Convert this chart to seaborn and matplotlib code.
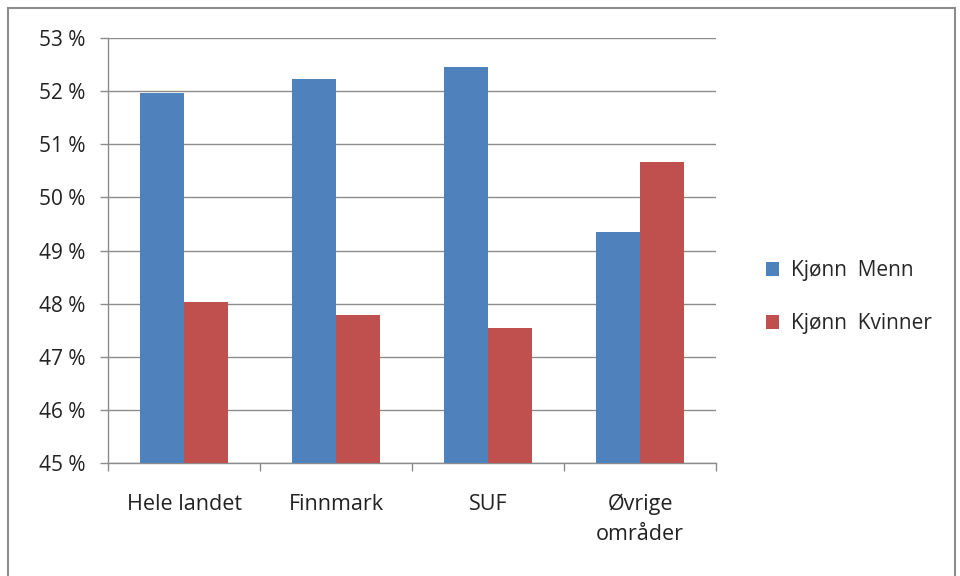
import pandas as pd
import numpy as np
import matplotlib.pyplot as plt
import matplotlib.ticker as mticker
from matplotlib.patches import Rectangle, Patch
import seaborn as sns

# data
categories = ["Hele landet", "Finnmark", "SUF", "Øvrige\nområder"]
menn = [51.97, 52.22, 52.45, 49.34]
kvinner = [48.03, 47.78, 47.55, 50.66]
series = ["Kjønn  Menn", "Kjønn  Kvinner"]

BLUE = "#4F81BD"
RED = "#C0504D"
GRID = "#8C8C8C"

df = pd.DataFrame({
    "område": categories * 2,
    "andel": menn + kvinner,
    "kjønn": [series[0]] * 4 + [series[1]] * 4,
})

sns.set_theme(style="white")
plt.rcParams["font.family"] = ["Open Sans", "DejaVu Sans"]

fig = plt.figure(figsize=(9.6, 5.76), dpi=100)
ax = fig.add_axes([0.1125, 0.196, 0.746 - 0.1125, 0.934 - 0.196])

sns.barplot(data=df, x="område", y="andel", hue="kjønn",
            palette=[BLUE, RED], width=0.58, linewidth=0,
            saturation=1, ax=ax, legend=False, zorder=3)

ax.set_ylim(45, 53)
ax.set_xlim(-0.5, 3.5)
ax.yaxis.set_major_locator(mticker.MultipleLocator(1))
ax.yaxis.set_major_formatter(mticker.FuncFormatter(lambda v, p: f"{v:.0f} %"))
ax.grid(axis="y", color=GRID, linewidth=1, zorder=0)
ax.set_axisbelow(True)
ax.set_xlabel("")
ax.set_ylabel("")

for side in ["top", "right"]:
    ax.spines[side].set_visible(False)
for side in ["left", "bottom"]:
    ax.spines[side].set_color(GRID)
    ax.spines[side].set_linewidth(1)

ax.tick_params(axis="y", which="major", length=6, width=1, color=GRID,
               direction="out", left=True, pad=10, labelsize=15,
               labelcolor="#222222")
ax.tick_params(axis="x", which="major", length=0, pad=22, labelsize=15.5,
               labelcolor="#222222")
for lbl in ax.get_xticklabels():
    lbl.set_linespacing(1.55)
ax.xaxis.set_minor_locator(mticker.FixedLocator([-0.5, 0.5, 1.5, 2.5, 3.5]))
ax.tick_params(axis="x", which="minor", length=6, width=1, color=GRID,
               direction="out", bottom=True)

handles = [Patch(facecolor=BLUE, edgecolor="none"),
           Patch(facecolor=RED, edgecolor="none")]
fig.legend(handles, series, loc="center left", bbox_to_anchor=(0.778, 0.484),
           frameon=False, fontsize=15, handlelength=0.65, handleheight=0.65,
           handletextpad=0.55, labelspacing=1.55)

# outer chart frame
fig.patches.append(Rectangle((8 / 960, -0.05), (955 - 8) / 960, 1.05 - 8 / 576,
                             transform=fig.transFigure, fill=False,
                             edgecolor="#8C8C8C", linewidth=1.5))

fig.savefig("out.png", dpi=100, facecolor="white")
